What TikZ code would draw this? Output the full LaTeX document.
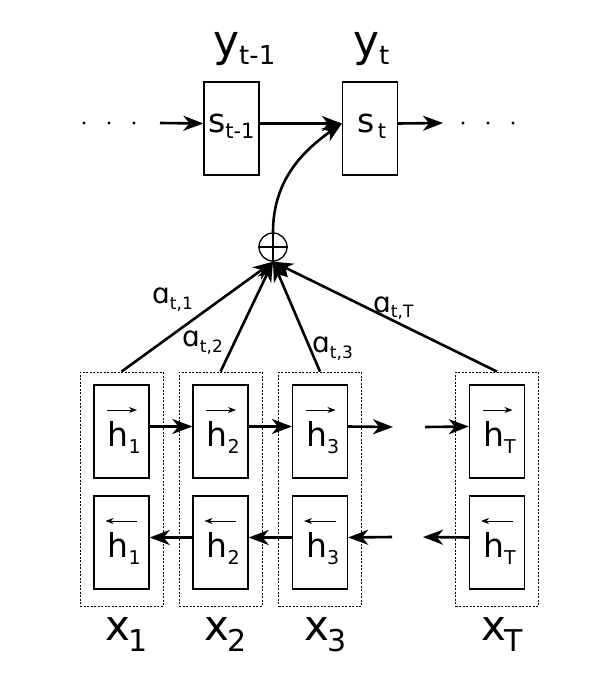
\documentclass[tikz,border=0pt]{standalone}
\usepackage{fontspec}
\setmainfont{DejaVu Sans}
\usetikzlibrary{arrows.meta}

% big letter with a lowered subscript: size, letter, subsize, drop, subscript
\newcommand\sublabel[5]{{\fontsize{#1}{#1}\selectfont #2}{\fontsize{#3}{#3}\selectfont\raisebox{-#4pt}{#5}}}

\tikzset{
  cell/.style={draw,line width=1.3pt,minimum width=55pt,minimum height=93pt,inner sep=0pt},
  column/.style={draw,line width=0.8pt,dash pattern=on 2pt off 1.5pt,minimum width=83pt,minimum height=234pt,inner sep=0pt},
  arr/.style={line width=2.6pt,-{Stealth[length=20pt,width=15pt,inset=6pt]}},
  smallarr/.style={line width=0.9pt,-{Stealth[length=8pt,width=6pt,inset=2.5pt]}},
  txt/.style={anchor=base west,inner sep=0pt}
}

\begin{document}
\begin{tikzpicture}[x=1pt,y=-1pt]
\useasboundingbox (0,0) rectangle (592,682);

% decoder states
\node[cell] (sp) at (231.5,128.5) {};
\node[cell] (st) at (370,128.5) {};
\node[txt] (sptxt) at (208,132) {\sublabel{33}{s}{21}{6}{t-1}};
\node[txt] (sttxt) at (357,132) {\sublabel{33}{s}{21}{6}{\,t}};
\node[txt] (yp) at (213,57) {\sublabel{44}{y}{26}{8}{t-1}};
\node[txt] (yt) at (353,57) {\sublabel{44}{y}{26}{8}{t}};

\foreach \x in {84,109,134,463,488,513}
  \fill (\x,123) circle (1.6pt);
\coordinate (inleft) at (160,123);
\coordinate (outright) at (443,123);
\draw[arr] (inleft) -- ([yshift=5pt]sp.west);
\draw[arr] ([yshift=5pt]sp.east) -- ([yshift=5pt]st.west);
\draw[arr] ([yshift=5pt]st.east) -- (outright);

% weighted sum
\node[circle,draw,line width=1.3pt,minimum size=28pt,inner sep=0pt] (sum) at (273,247) {};
\draw[line width=2pt] (sum.north) -- (sum.south) (sum.west) -- (sum.east);
\draw[arr] (sum.north) to[out=90,in=215] ([yshift=5pt]st.west);

% encoder columns
\foreach \n/\cx/\s in {1/121.5/1,2/220.5/2,3/320/3,T/497/T}{
  \node[column] (col\n) at (\cx,489) {};
  \node[cell] (f\n) at (\cx,431.5) {};
  \node[cell] (b\n) at (\cx,542.5) {};
  \node[txt] (ftxt\n) at (\cx-14,446) {\sublabel{33}{h}{19}{7}{\s}};
  \node[txt] (btxt\n) at (\cx-14,557) {\sublabel{33}{h}{19}{7}{\s}};
  \draw[smallarr] (\cx-14.5,410) -- (\cx+15.5,410);
  \draw[smallarr] (\cx+15.5,521) -- (\cx-16,521);
  \node[txt] (x\n) at (\cx-16,640) {\sublabel{42}{x}{30}{11}{\kern-2pt\s}};
  \draw[arr] (col\n.north) -- (sum.south);
}

% forward and backward chains
\coordinate (fgapl) at (393,427);
\coordinate (fgapr) at (425,427);
\coordinate (bgapl) at (423,537);
\coordinate (bgapr) at (392,537);
\draw[arr] ([yshift=5pt]f1.east) -- ([yshift=5pt]f2.west);
\draw[arr] ([yshift=5pt]f2.east) -- ([yshift=5pt]f3.west);
\draw[arr] ([yshift=5pt]f3.east) -- (fgapl);
\draw[arr] (fgapr) -- ([yshift=5pt]fT.west);
\draw[arr] ([yshift=5pt]b2.west) -- ([yshift=5pt]b1.east);
\draw[arr] ([yshift=5pt]b3.west) -- ([yshift=5pt]b2.east);
\draw[arr] (bgapr) -- ([yshift=5pt]b3.east);
\draw[arr] ([yshift=5pt]bT.west) -- (bgapl);

% attention weights
\node[txt] (a1) at (152,303) {\sublabel{28}{ɑ}{17}{6}{t,1}};
\node[txt] (a2) at (182,346) {\sublabel{28}{ɑ}{17}{6}{t,2}};
\node[txt] (a3) at (312,352) {\sublabel{28}{ɑ}{17}{6}{t,3}};
\node[txt] (aT) at (373,312) {\sublabel{28}{ɑ}{17}{5}{t,T}};

\end{tikzpicture}
\end{document}
